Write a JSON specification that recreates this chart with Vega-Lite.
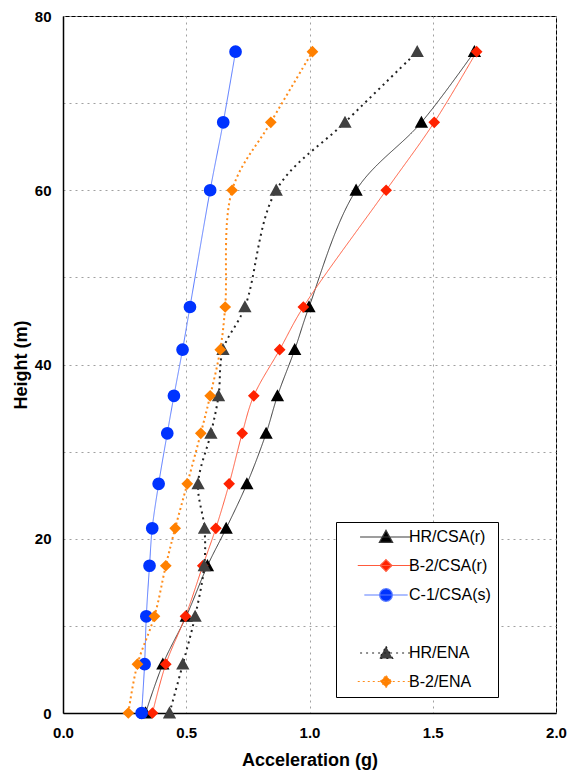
{
  "$schema": "https://vega.github.io/schema/vega-lite/v6.json",
  "width": 493,
  "height": 697,
  "autosize": {"type": "none"},
  "padding": {"left": 63, "top": 16, "right": 19, "bottom": 65},
  "background": "white",
  "config": {
    "font": "Liberation Sans",
    "view": {"stroke": "black", "strokeWidth": 1},
    "axis": {
      "domainColor": "black",
      "domainWidth": 1.5,
      "ticks": false,
      "labelFlush": false,
      "labelFont": "Liberation Sans",
      "labelFontSize": 15,
      "labelFontWeight": "bold",
      "labelColor": "black",
      "labelPadding": 12,
      "titleFont": "Liberation Sans",
      "titleFontSize": 18,
      "titleFontWeight": "bold",
      "titleColor": "black",
      "grid": true,
      "gridColor": "#a0a0a0",
      "gridDash": [2, 4],
      "gridWidth": 1
    },
    "legend": {
      "title": null, "orient": "none", "legendX": 273, "legendY": 506,
      "strokeColor": "black", "fillColor": "white", "padding": 7,
      "symbolSize": 100, "symbolOffset": 35, "labelOffset": 15,
      "symbolStrokeWidth": 1.2, "symbolOpacity": 1,
      "labelFont": "Liberation Sans", "labelFontSize": 16, "labelColor": "black",
      "rowPadding": 11.5
    }
  },
  "data": {
    "values": [
      {"s": "HR/CSA(r)", "h": 0, "a": 0.335},
      {"s": "HR/CSA(r)", "h": 5.6, "a": 0.405},
      {"s": "HR/CSA(r)", "h": 11.1, "a": 0.5},
      {"s": "HR/CSA(r)", "h": 16.9, "a": 0.586},
      {"s": "HR/CSA(r)", "h": 21.2, "a": 0.662},
      {"s": "HR/CSA(r)", "h": 26.3, "a": 0.746},
      {"s": "HR/CSA(r)", "h": 32.1, "a": 0.824},
      {"s": "HR/CSA(r)", "h": 36.4, "a": 0.87},
      {"s": "HR/CSA(r)", "h": 41.7, "a": 0.94},
      {"s": "HR/CSA(r)", "h": 46.6, "a": 0.998},
      {"s": "HR/CSA(r)", "h": 60, "a": 1.189},
      {"s": "HR/CSA(r)", "h": 67.8, "a": 1.454},
      {"s": "HR/CSA(r)", "h": 75.9, "a": 1.669},
      {"s": "B-2/CSA(r)", "h": 0, "a": 0.363},
      {"s": "B-2/CSA(r)", "h": 5.6, "a": 0.417},
      {"s": "B-2/CSA(r)", "h": 11.1, "a": 0.497},
      {"s": "B-2/CSA(r)", "h": 16.9, "a": 0.567},
      {"s": "B-2/CSA(r)", "h": 21.2, "a": 0.62},
      {"s": "B-2/CSA(r)", "h": 26.3, "a": 0.674},
      {"s": "B-2/CSA(r)", "h": 32.1, "a": 0.727},
      {"s": "B-2/CSA(r)", "h": 36.4, "a": 0.774},
      {"s": "B-2/CSA(r)", "h": 41.7, "a": 0.879},
      {"s": "B-2/CSA(r)", "h": 46.6, "a": 0.975},
      {"s": "B-2/CSA(r)", "h": 60, "a": 1.311},
      {"s": "B-2/CSA(r)", "h": 67.8, "a": 1.506},
      {"s": "B-2/CSA(r)", "h": 75.9, "a": 1.678},
      {"s": "C-1/CSA(s)", "h": 0, "a": 0.319},
      {"s": "C-1/CSA(s)", "h": 5.6, "a": 0.331},
      {"s": "C-1/CSA(s)", "h": 11.1, "a": 0.338},
      {"s": "C-1/CSA(s)", "h": 16.9, "a": 0.351},
      {"s": "C-1/CSA(s)", "h": 21.2, "a": 0.362},
      {"s": "C-1/CSA(s)", "h": 26.3, "a": 0.388},
      {"s": "C-1/CSA(s)", "h": 32.1, "a": 0.423},
      {"s": "C-1/CSA(s)", "h": 36.4, "a": 0.45},
      {"s": "C-1/CSA(s)", "h": 41.7, "a": 0.485},
      {"s": "C-1/CSA(s)", "h": 46.6, "a": 0.515},
      {"s": "C-1/CSA(s)", "h": 60, "a": 0.597},
      {"s": "C-1/CSA(s)", "h": 67.8, "a": 0.65},
      {"s": "C-1/CSA(s)", "h": 75.9, "a": 0.7},
      {"s": "HR/ENA", "h": 0, "a": 0.432},
      {"s": "HR/ENA", "h": 5.6, "a": 0.486},
      {"s": "HR/ENA", "h": 11.1, "a": 0.536},
      {"s": "HR/ENA", "h": 16.9, "a": 0.573},
      {"s": "HR/ENA", "h": 21.2, "a": 0.574},
      {"s": "HR/ENA", "h": 26.3, "a": 0.548},
      {"s": "HR/ENA", "h": 32.1, "a": 0.6},
      {"s": "HR/ENA", "h": 36.4, "a": 0.631},
      {"s": "HR/ENA", "h": 41.7, "a": 0.649},
      {"s": "HR/ENA", "h": 46.6, "a": 0.738},
      {"s": "HR/ENA", "h": 60, "a": 0.865},
      {"s": "HR/ENA", "h": 67.8, "a": 1.144},
      {"s": "HR/ENA", "h": 75.9, "a": 1.437},
      {"s": "B-2/ENA", "h": 0, "a": 0.265},
      {"s": "B-2/ENA", "h": 5.6, "a": 0.302},
      {"s": "B-2/ENA", "h": 11.1, "a": 0.371},
      {"s": "B-2/ENA", "h": 16.9, "a": 0.417},
      {"s": "B-2/ENA", "h": 21.2, "a": 0.455},
      {"s": "B-2/ENA", "h": 26.3, "a": 0.504},
      {"s": "B-2/ENA", "h": 32.1, "a": 0.559},
      {"s": "B-2/ENA", "h": 36.4, "a": 0.597},
      {"s": "B-2/ENA", "h": 41.7, "a": 0.638},
      {"s": "B-2/ENA", "h": 46.6, "a": 0.658},
      {"s": "B-2/ENA", "h": 60, "a": 0.686},
      {"s": "B-2/ENA", "h": 67.8, "a": 0.843},
      {"s": "B-2/ENA", "h": 75.9, "a": 1.012}
    ]
  },
  "encoding": {
    "x": {
      "field": "a",
      "type": "quantitative",
      "scale": {"domain": [0, 2], "nice": false, "zero": false},
      "axis": {
        "title": "Acceleration (g)",
        "values": [0, 0.5, 1, 1.5, 2],
        "format": ".1f",
        "titlePadding": 11
      }
    },
    "y": {
      "field": "h",
      "type": "quantitative",
      "scale": {"domain": [0, 80], "nice": false},
      "axis": {
        "title": "Height (m)",
        "values": [0, 10, 20, 30, 40, 50, 60, 70, 80],
        "labelExpr": "datum.value % 20 === 0 ? datum.label : ''",
        "titlePadding": 4
      }
    }
  },
  "layer": [
    {
      "transform": [{"filter": {"field": "s", "oneOf": ["HR/CSA(r)", "B-2/CSA(r)", "C-1/CSA(s)"]}}],
      "mark": {"type": "line", "strokeWidth": 1, "interpolate": "catmull-rom"},
      "encoding": {
        "order": {"field": "h", "type": "quantitative"},
        "stroke": {
          "field": "s", "type": "nominal",
          "scale": {
            "domain": ["HR/CSA(r)", "B-2/CSA(r)", "C-1/CSA(s)", " ", "HR/ENA", "B-2/ENA"],
            "range": ["#3a3a3a", "#ff5a3c", "#5a7cff", "rgba(0,0,0,0)", "#222222", "#ff8c1a"]
          },
          "legend": {"labelExpr": "datum.label + '\u00a0\u00a0\u00a0\u00a0\u00a0'"}
        },
        "strokeDash": {
          "field": "s", "type": "nominal",
          "scale": {
            "domain": ["HR/CSA(r)", "B-2/CSA(r)", "C-1/CSA(s)", " ", "HR/ENA", "B-2/ENA"],
            "range": [[1, 0], [1, 0], [1, 0], [1, 0], [2, 4], [2, 3]]
          },
          "legend": {"labelExpr": "datum.label + '\u00a0\u00a0\u00a0\u00a0\u00a0'"}
        }
      }
    },
    {
      "transform": [{"filter": {"field": "s", "oneOf": ["HR/ENA", "B-2/ENA"]}}],
      "mark": {"type": "line", "strokeWidth": 2, "interpolate": "catmull-rom"},
      "encoding": {
        "order": {"field": "h", "type": "quantitative"},
        "stroke": {"field": "s", "type": "nominal"},
        "strokeDash": {"field": "s", "type": "nominal"}
      }
    },
    {
      "mark": {"type": "point", "filled": true, "opacity": 1},
      "encoding": {
        "fill": {
          "field": "s", "type": "nominal",
          "scale": {
            "domain": ["HR/CSA(r)", "B-2/CSA(r)", "C-1/CSA(s)", " ", "HR/ENA", "B-2/ENA"],
            "range": ["#000000", "#ff2200", "#0033ff", "rgba(0,0,0,0)", "#404040", "#ff8000"]
          },
          "legend": {"labelExpr": "datum.label + '\u00a0\u00a0\u00a0\u00a0\u00a0'"}
        },
        "shape": {
          "field": "s", "type": "nominal",
          "scale": {
            "domain": ["HR/CSA(r)", "B-2/CSA(r)", "C-1/CSA(s)", " ", "HR/ENA", "B-2/ENA"],
            "range": [
              "M-4.1,0H4.1M0,-1.05L1.05,0.85L-1.05,0.85Z",
              "M-4.1,0H4.1M0,-0.85L0.85,0L0,0.85L-0.85,0Z",
              "M-4.1,0H4.1M1.2,0L1.109,0.459L0.849,0.849L0.459,1.109L0,1.2L-0.459,1.109L-0.849,0.849L-1.109,0.459L-1.2,0L-1.109,-0.459L-0.849,-0.849L-0.459,-1.109L0,-1.2L0.459,-1.109L0.849,-0.849L1.109,-0.459Z",
              "M0,0",
              "M-4.1,0H4.1M0,-1.05L1.05,0.85L-1.05,0.85Z",
              "M-4.1,0H4.1M0,-0.85L0.85,0L0,0.85L-0.85,0Z"
            ]
          },
          "legend": {"labelExpr": "datum.label + '\u00a0\u00a0\u00a0\u00a0\u00a0'"}
        },
        "size": {
          "field": "s", "type": "nominal",
          "scale": {
            "type": "ordinal",
            "domain": ["HR/CSA(r)", "B-2/CSA(r)", "C-1/CSA(s)", " ", "HR/ENA", "B-2/ENA"],
            "range": [160, 190, 112, 0, 160, 190]
          },
          "legend": null
        }
      }
    }
  ]
}
